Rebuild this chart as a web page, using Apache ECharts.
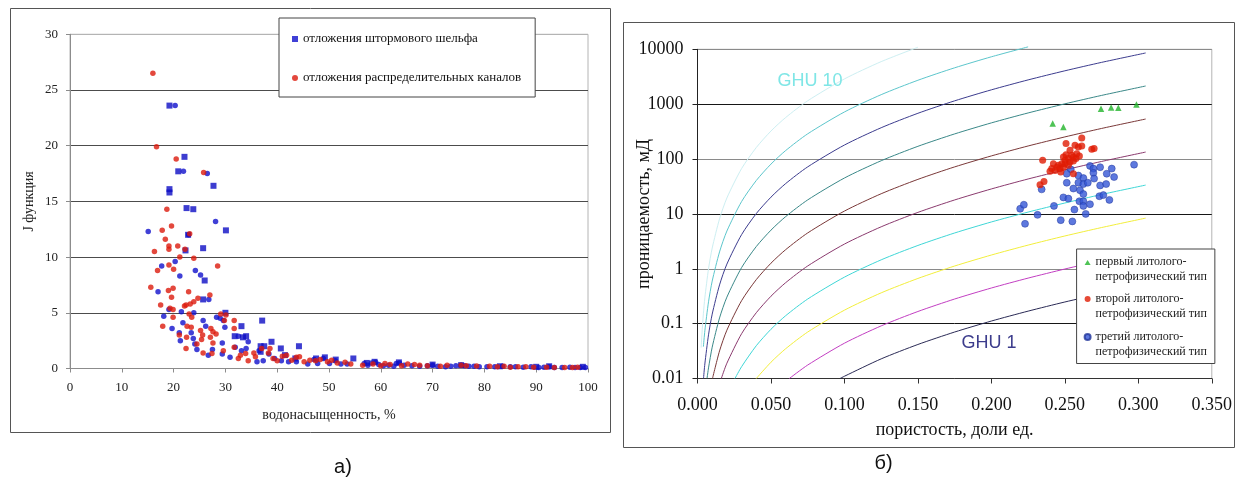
<!DOCTYPE html>
<html><head><meta charset="utf-8">
<script src="https://cdn.jsdelivr.net/npm/echarts@6/dist/echarts.min.js"></script>
<style>html,body{margin:0;padding:0;background:#fff}#c{width:1246px;height:480px}</style>
</head><body><div id="c"></div>
<script>
// ---------- Panel а): J-function vs water saturation ----------
const leftXTicks = [0, 10, 20, 30, 40, 50, 60, 70, 80, 90, 100];
const leftYTicks = [0, 5, 10, 15, 20, 25, 30];
const stormSquares = [
  [19.2,23.6],[19.2,16.1],[19.2,15.8],[22.1,19.0],[20.9,17.7],[27.7,16.4],[22.5,14.4],[23.8,14.3],
  [22.8,12.0],[30.1,12.4],[22.3,10.6],[25.7,10.8],[26.0,7.9],[25.7,6.2],[37.1,4.3],[33.1,3.8],
  [44.2,2.0],[38.9,2.4],[54.7,0.9],[36.8,2.0],[30.0,5.0],[40.7,1.8],[31.8,2.9],[33.4,2.8],[34.0,2.9],
  [37.5,2.0],[41.5,1.2],[43.5,0.9],[47.5,0.9],[49.2,1.0],[51.3,0.8],[36.8,1.5],
  [57.3,0.5],[58.8,0.6],[63.5,0.55],[70.0,0.35],[75.5,0.3],[83.0,0.2],[90.0,0.15],[92.5,0.2],[99.0,0.15]
];
const stormCircles = [
  [20.3,23.6],[21.9,17.7],[26.5,17.5],[28.1,13.2],[15.1,12.3],[22.9,12.0],[20.3,9.6],[17.7,9.2],
  [21.2,8.3],[24.2,8.8],[25.2,8.4],[17.0,6.9],[26.8,6.2],[21.5,5.1],[19.1,5.3],[23.9,5.0],[18.1,4.7],
  [21.8,4.1],[25.7,4.3],[26.2,3.8],[28.3,4.6],[29.0,4.5],[29.6,4.3],[29.9,3.7],[19.7,3.6],[21.1,3.2],
  [23.4,3.2],[23.8,2.7],[21.3,2.5],[24.1,2.2],[24.5,1.7],[26.7,1.2],[27.5,1.7],[29.4,2.3],[29.4,1.3],
  [30.9,1.0],[31.9,1.9],[33.1,1.6],[34.4,2.4],[34.0,1.8],[32.5,2.9],[36.1,0.6],[36.5,1.6],[37.3,0.7],
  [38.4,1.3],[39.5,0.9],[40.8,0.7],[42.2,0.6],[43.7,0.6],[45.9,0.4],[47.1,0.8],[47.8,0.45],[48.9,0.9],
  [50.1,0.45],[51.2,0.7],[52.3,0.4],[53.5,0.4],
  [56.8,0.45],[57.5,0.3],[58.2,0.5],[59.0,0.55],[59.6,0.35],[60.5,0.25],[61.5,0.3],[62.5,0.2],[63.0,0.45],
  [63.6,0.5],[64.5,0.3],[66.0,0.25],[67.5,0.2],[69.0,0.25],[70.0,0.3],[71.0,0.2],[72.5,0.15],[73.5,0.2],
  [74.5,0.25],[75.5,0.3],[76.2,0.25],[77.0,0.2],[78.0,0.2],[79.0,0.15],[80.5,0.15],[82.0,0.15],[83.5,0.2],
  [85.0,0.15],[86.0,0.15],[87.5,0.12],[89.0,0.15],[90.5,0.1],[91.5,0.12],[92.5,0.15],[93.5,0.1],[95.0,0.1],
  [96.5,0.12],[97.5,0.1],[98.5,0.1],[99.5,0.1]
];
const channelPoints = [
  [16.0,26.5],[16.7,19.9],[20.5,18.8],[25.8,17.6],[18.7,14.3],[19.6,12.8],[17.8,12.4],[23.1,12.1],
  [18.4,11.6],[19.1,11.0],[20.8,11.0],[19.1,10.7],[22.2,10.7],[16.3,10.5],[23.9,9.9],[21.2,10.0],
  [19.1,9.3],[28.5,9.2],[20.0,8.9],[16.9,8.8],[15.6,7.3],[19.0,7.0],[19.9,7.2],[22.9,6.9],[27.0,6.6],
  [19.6,6.4],[24.7,6.3],[23.9,6.0],[22.4,5.7],[23.2,5.8],[17.5,5.7],[19.3,5.4],[19.9,5.3],[22.1,5.6],
  [23.0,4.9],[29.1,4.9],[30.1,4.8],[31.7,4.3],[29.8,4.3],[23.5,4.6],[19.9,4.6],[17.9,3.8],[22.6,3.8],
  [23.4,3.7],[25.2,3.4],[27.2,3.6],[27.6,3.3],[25.6,3.0],[28.2,3.1],[31.7,3.6],[21.1,3.0],[22.5,2.8],
  [25.4,2.6],[27.1,2.8],[27.6,2.3],[24.5,2.2],[22.4,1.8],[25.7,1.4],[27.4,1.35],[29.6,1.6],[31.7,1.9],
  [32.5,0.9],[32.9,1.2],[33.9,1.35],[34.4,0.7],[35.5,1.4],[35.8,1.05],[37.0,1.8],[38.3,1.4],[38.6,1.8],
  [39.2,0.9],[40.0,0.7],[41.0,1.1],[41.8,1.2],[42.8,0.75],[43.7,1.0],[44.3,1.05],[45.2,0.6],[46.3,0.75],
  [47.4,0.7],[48.3,0.8],[49.7,0.6],[50.5,0.75],[51.6,0.5],[53.1,0.55],[54.2,0.4],
  [56.5,0.3],[58.5,0.4],[60.0,0.25],[60.8,0.45],[61.8,0.35],[64.0,0.25],[65.2,0.4],[66.5,0.35],[67.5,0.3],
  [69.0,0.25],[71.5,0.2],[72.8,0.3],[75.5,0.3],[76.5,0.25],[78.5,0.22],[81.0,0.2],[82.5,0.15],[83.8,0.2],
  [85.0,0.12],[86.5,0.15],[88.0,0.15],[89.5,0.12],[92.0,0.12],[93.5,0.1],[95.5,0.1],[97.0,0.1],[98.0,0.12]
];

// ---------- Panel б): permeability vs porosity ----------
const rightXTicks = [0, 0.05, 0.1, 0.15, 0.2, 0.25, 0.3, 0.35];
const rightYTicks = [0.01, 0.1, 1, 10, 100, 1000, 10000];
const type1 = [[0.2417,443],[0.2490,385],[0.2746,822],[0.2815,869],[0.2864,857],[0.2987,986]];
const type2 = [
  [0.2615,243],[0.2508,191],[0.2569,178],[0.2592,166],[0.2615,173],[0.2683,150],[0.2699,155],[0.2535,144],
  [0.2508,120],[0.2547,117],[0.2558,109],[0.2576,102],[0.2524,102],[0.2501,95],[0.2490,109],[0.2349,95],
  [0.2422,82],[0.2456,77],[0.2479,82],[0.2501,82],[0.2535,88],[0.2558,92],[0.2445,71],[0.2411,67],
  [0.2433,62],[0.2467,67],[0.2490,71],[0.2524,77],[0.2399,60],[0.2558,54],[0.2358,39],[0.2331,34],
  [0.2581,125],[0.2599,114],[0.2472,58]
];
const type3 = [
  [0.2971,79],[0.2671,75],[0.2694,67],[0.2740,71],[0.2819,67],[0.2540,65],[0.2513,54],[0.2592,50],
  [0.2626,45],[0.2694,56],[0.2785,54],[0.2835,47],[0.2699,44],[0.2513,37],[0.2592,37],[0.2626,35],
  [0.2656,37],[0.2558,29],[0.2603,27],[0.2626,23],[0.2740,33],[0.2781,35],[0.2342,28],[0.2490,20],
  [0.2524,19],[0.2599,17],[0.2626,17],[0.2735,21],[0.2762,22],[0.2803,18],[0.2671,15],[0.2426,14],
  [0.2565,12],[0.2626,14],[0.2642,10],[0.2472,7.7],[0.2551,7.3],
  [0.2196,12.4],[0.2221,14.7],[0.2229,6.6],[0.2314,9.6]
];
// GHU curves as [porosity, permeability] pairs
const ghu1 = [[0.097,0.01],[0.1,0.011],[0.125,0.0228],[0.15,0.0417],[0.175,0.0703],[0.2,0.1115],[0.225,0.169],[0.25,0.248],[0.275,0.353],[0.305,0.524]];
const ghu2 = [[0.0625,0.01],[0.075,0.0176],[0.1,0.044],[0.125,0.091],[0.15,0.1665],[0.175,0.281],[0.2,0.446],[0.225,0.676],[0.25,0.99],[0.275,1.41],[0.305,2.09]];
const ghu3 = [[0.04,0.01],[0.05,0.0198],[0.06,0.0349],[0.075,0.0703],[0.1,0.176],[0.125,0.364],[0.15,0.666],[0.175,1.123],[0.2,1.78],[0.225,2.70],[0.25,3.96],[0.275,5.64],[0.305,8.38]];
const ghu4 = [[0.0255,0.01],[0.03,0.0164],[0.04,0.0396],[0.05,0.079],[0.06,0.1395],[0.075,0.281],[0.1,0.704],[0.125,1.455],[0.15,2.66],[0.175,4.49],[0.2,7.13],[0.225,10.8],[0.25,15.8],[0.275,22.6],[0.305,33.5]];
const ghu5 = [[0.0162,0.01],[0.02,0.019],[0.03,0.0655],[0.04,0.158],[0.05,0.316],[0.06,0.558],[0.075,1.125],[0.1,2.82],[0.125,5.82],[0.15,10.66],[0.175,17.96],[0.2,28.5],[0.225,43.3],[0.25,63.4],[0.275,90.3],[0.305,134]];
const ghu6 = [[0.0102,0.01],[0.015,0.0318],[0.02,0.076],[0.03,0.262],[0.04,0.634],[0.05,1.264],[0.06,2.23],[0.075,4.5],[0.1,11.27],[0.125,23.3],[0.15,42.6],[0.175,71.9],[0.2,114],[0.225,173],[0.25,253],[0.275,361],[0.305,536]];
const ghu7 = [[0.0065,0.0101],[0.0075,0.0156],[0.01,0.0372],[0.015,0.127],[0.02,0.304],[0.03,1.05],[0.04,2.54],[0.05,5.06],[0.06,8.93],[0.075,18],[0.1,45.1],[0.125,93.1],[0.15,170.5],[0.175,287],[0.2,456],[0.225,692],[0.25,1014],[0.275,1444],[0.305,2144]];
const ghu8 = [[0.0041,0.0101],[0.005,0.0184],[0.0075,0.0625],[0.01,0.149],[0.015,0.508],[0.02,1.216],[0.03,4.19],[0.04,10.14],[0.05,20.2],[0.06,35.7],[0.075,72],[0.1,180],[0.125,372],[0.15,682],[0.175,1150],[0.2,1825],[0.225,2769],[0.25,4056],[0.275,5777],[0.305,8577]];
const ghu9 = [[0.004,0.038],[0.005,0.0738],[0.0075,0.25],[0.01,0.596],[0.015,2.03],[0.02,4.87],[0.03,16.8],[0.04,40.6],[0.05,80.9],[0.06,142.8],[0.075,288],[0.1,721],[0.125,1490],[0.15,2728],[0.175,4599],[0.2,7301],[0.225,11080]];
const ghu10 = [[0.0025,0.0367],[0.003,0.0635],[0.004,0.151],[0.005,0.295],[0.0075,1.0],[0.01,2.38],[0.015,8.13],[0.02,19.5],[0.03,67],[0.04,162],[0.05,324],[0.06,571],[0.075,1152],[0.1,2884],[0.125,5960],[0.15,10900]];
const ghuCurves = [ghu1, ghu2, ghu3, ghu4, ghu5, ghu6, ghu7, ghu8, ghu9, ghu10];
const ghuColors = ['#2a2a55','#c23fc2','#f2ee3c','#3fd6d6','#8a3a6e','#7a3838','#3a8888','#3c3c8e','#5cc6cc','#cdeff2'];

const SERIF = '"Liberation Serif", "Times New Roman", serif';
const SANS = '"Liberation Sans", Arial, sans-serif';

const chart = echarts.init(document.getElementById('c'), null, {renderer: 'canvas'});

const leftNames = ['отложения штормового шельфа', 'отложения распределительных каналов'];
const rightNames = ['первый литолого-петрофизический тип', 'второй литолого-петрофизический тип', 'третий литолого-петрофизический тип'];

function icon(shape) {
  // symbol placed at the first text line of a two-line legend label
  if (shape === 'tri') return 'path://M3,0L3,0M3,4.8L6.2,10.2L-0.2,10.2ZM3,30L3,30';
  return 'path://M3,0L3,0M0,7.5A3,3,0,1,0,6,7.5A3,3,0,1,0,0,7.5ZM3,30L3,30';
}

const series = [
  {name: leftNames[0], type: 'scatter', xAxisIndex: 0, yAxisIndex: 0, data: stormCircles, symbol: 'circle', symbolSize: 5.5, itemStyle: {color: '#1010cc'}},
  {name: leftNames[0], type: 'scatter', xAxisIndex: 0, yAxisIndex: 0, data: stormSquares, symbol: 'rect', symbolSize: 6, itemStyle: {color: '#0c0cc4'}},
  {name: leftNames[1], type: 'scatter', xAxisIndex: 0, yAxisIndex: 0, data: channelPoints, symbol: 'circle', symbolSize: 5.5, itemStyle: {color: '#dc1a0c'}},
];
ghuCurves.forEach((c, i) => {
  series.push({
    name: 'GHU ' + (i + 1), type: 'line', xAxisIndex: 1, yAxisIndex: 1, data: c,
    showSymbol: false, smooth: 0.25, silent: true, clip: i < 8,
    lineStyle: {color: ghuColors[i], width: 1}, z: 1
  });
});
series.push(
  {name: rightNames[2], type: 'scatter', xAxisIndex: 1, yAxisIndex: 1, data: type3, symbol: 'circle', symbolSize: 7, itemStyle: {color: '#3456d6', borderColor: '#22369a', borderWidth: 0.6}, z: 3},
  {name: rightNames[1], type: 'scatter', xAxisIndex: 1, yAxisIndex: 1, data: type2, symbol: 'circle', symbolSize: 7, itemStyle: {color: '#e01c04'}, z: 3},
  {name: rightNames[0], type: 'scatter', xAxisIndex: 1, yAxisIndex: 1, data: type1, symbol: 'triangle', symbolSize: 6.5, itemStyle: {color: '#22b42a'}, z: 3}
);

const option = {
  animation: false,
  backgroundColor: '#fff',
  grid: [
    {left: 70, top: 34.3, right: 1246 - 588, bottom: 480 - 368.5, show: true, borderColor: '#b4b4b4', borderWidth: 1},
    {left: 697.5, top: 49.3, right: 1246 - 1211.8, bottom: 480 - 378.5, show: true, borderColor: '#b4b4b4', borderWidth: 1}
  ],
  xAxis: [
    {gridIndex: 0, type: 'value', min: leftXTicks[0], max: leftXTicks[leftXTicks.length - 1], interval: 10,
     splitLine: {show: false},
     axisLine: {lineStyle: {color: '#8c8c8c'}},
     axisTick: {show: true, inside: false, length: 4, lineStyle: {color: '#8c8c8c'}},
     axisLabel: {color: '#222', fontFamily: SERIF, fontSize: 13, margin: 13},
     name: 'водонасыщенность, %', nameLocation: 'middle', nameGap: 40, nameMoveOverlap: false,
     nameTextStyle: {color: '#222', fontFamily: SERIF, fontSize: 14}},
    {gridIndex: 1, type: 'value', min: rightXTicks[0], max: rightXTicks[rightXTicks.length - 1], interval: 0.05,
     splitLine: {show: false},
     axisLine: {lineStyle: {color: '#333'}},
     axisTick: {show: true, inside: false, length: 5, lineStyle: {color: '#333'}},
     axisLabel: {color: '#111', fontFamily: SERIF, fontSize: 18, margin: 18, formatter: v => v.toFixed(3)},
     name: 'пористость, доли ед.', nameLocation: 'middle', nameGap: 43, nameMoveOverlap: false,
     nameTextStyle: {color: '#111', fontFamily: SERIF, fontSize: 18}}
  ],
  yAxis: [
    {gridIndex: 0, type: 'value', min: leftYTicks[0], max: leftYTicks[leftYTicks.length - 1], interval: 5,
     splitLine: {show: true, lineStyle: {color: ['#8c8c8c', '#4c4c4c', '#4c4c4c', '#4c4c4c', '#4c4c4c', '#4c4c4c', '#b4b4b4'], width: 1}},
     axisLine: {show: true, lineStyle: {color: '#8c8c8c'}},
     axisTick: {show: true, inside: false, length: 4, lineStyle: {color: '#8c8c8c'}},
     axisLabel: {color: '#222', fontFamily: SERIF, fontSize: 13, margin: 12},
     name: 'J функция', nameLocation: 'middle', nameGap: 34, nameRotate: 90, nameMoveOverlap: false,
     nameTextStyle: {color: '#222', fontFamily: SERIF, fontSize: 14}},
    {gridIndex: 1, type: 'log', logBase: 10, min: rightYTicks[0], max: rightYTicks[rightYTicks.length - 1],
     splitLine: {show: true, lineStyle: {color: ['#8a8a8a', '#161616'], width: 1}},
     axisLine: {show: true, lineStyle: {color: '#222'}},
     axisTick: {show: true, inside: false, length: 5, lineStyle: {color: '#222'}},
     axisLabel: {color: '#111', fontFamily: SERIF, fontSize: 18, margin: 14,
       formatter: v => { const r = rightYTicks.find(t => Math.abs(Math.log10(t) - Math.log10(v)) < 1e-6); return r === undefined ? '' : String(r); }},
     name: 'проницаемость, мД', nameLocation: 'middle', nameGap: 44, nameRotate: 90, nameMoveOverlap: false,
     nameTextStyle: {color: '#111', fontFamily: SERIF, fontSize: 18}}
  ],
  legend: [
    {data: [{name: leftNames[0], icon: 'rect'}, {name: leftNames[1], icon: 'circle'}],
     orient: 'vertical', left: 279, top: 18, padding: [14, 14, 12, 13], itemGap: 25,
     itemWidth: 6, itemHeight: 6, backgroundColor: '#fff', borderColor: '#444', borderWidth: 1,
     selectedMode: false,
     textStyle: {color: '#111', fontFamily: SERIF, fontSize: 13, lineHeight: 14}},
    {data: [{name: rightNames[0], icon: icon('tri')}, {name: rightNames[1], icon: icon('c')}, {name: rightNames[2], icon: icon('c')}],
     orient: 'vertical', left: 1076.6, top: 249, padding: [5.5, 8, 3, 7], itemGap: 7,
     itemWidth: 6, itemHeight: 30, backgroundColor: '#fff', borderColor: '#444', borderWidth: 1,
     selectedMode: false,
     formatter: n => n.replace('литолого-', 'литолого-\n'),
     textStyle: {color: '#222', fontFamily: SERIF, fontSize: 12, lineHeight: 15}}
  ],
  graphic: [
    {type: 'rect', shape: {x: 10.5, y: 8.5, width: 600, height: 424}, style: {fill: null, stroke: '#555', lineWidth: 1}, silent: true},
    {type: 'rect', shape: {x: 623.5, y: 22.5, width: 611, height: 425}, style: {fill: null, stroke: '#555', lineWidth: 1}, silent: true},
    {type: 'text', x: 343, y: 467, style: {text: 'а)', font: '20px ' + SANS, fill: '#111', align: 'center', verticalAlign: 'middle', textAlign: 'center', textVerticalAlign: 'middle'}},
    {type: 'text', x: 883.5, y: 463, style: {text: 'б)', font: '20px ' + SANS, fill: '#111', align: 'center', verticalAlign: 'middle', textAlign: 'center', textVerticalAlign: 'middle'}},
    {type: 'text', x: 810, y: 81, z: 5, style: {text: 'GHU 10', font: '18px ' + SANS, fill: '#7fe6e6', align: 'center', verticalAlign: 'middle', textAlign: 'center', textVerticalAlign: 'middle'}},
    {type: 'text', x: 989, y: 343, z: 5, style: {text: 'GHU 1', font: '18px ' + SANS, fill: '#3c3c8c', align: 'center', verticalAlign: 'middle', textAlign: 'center', textVerticalAlign: 'middle'}}
  ],
  series: series
};
chart.setOption(option);
</script>
</body></html>
